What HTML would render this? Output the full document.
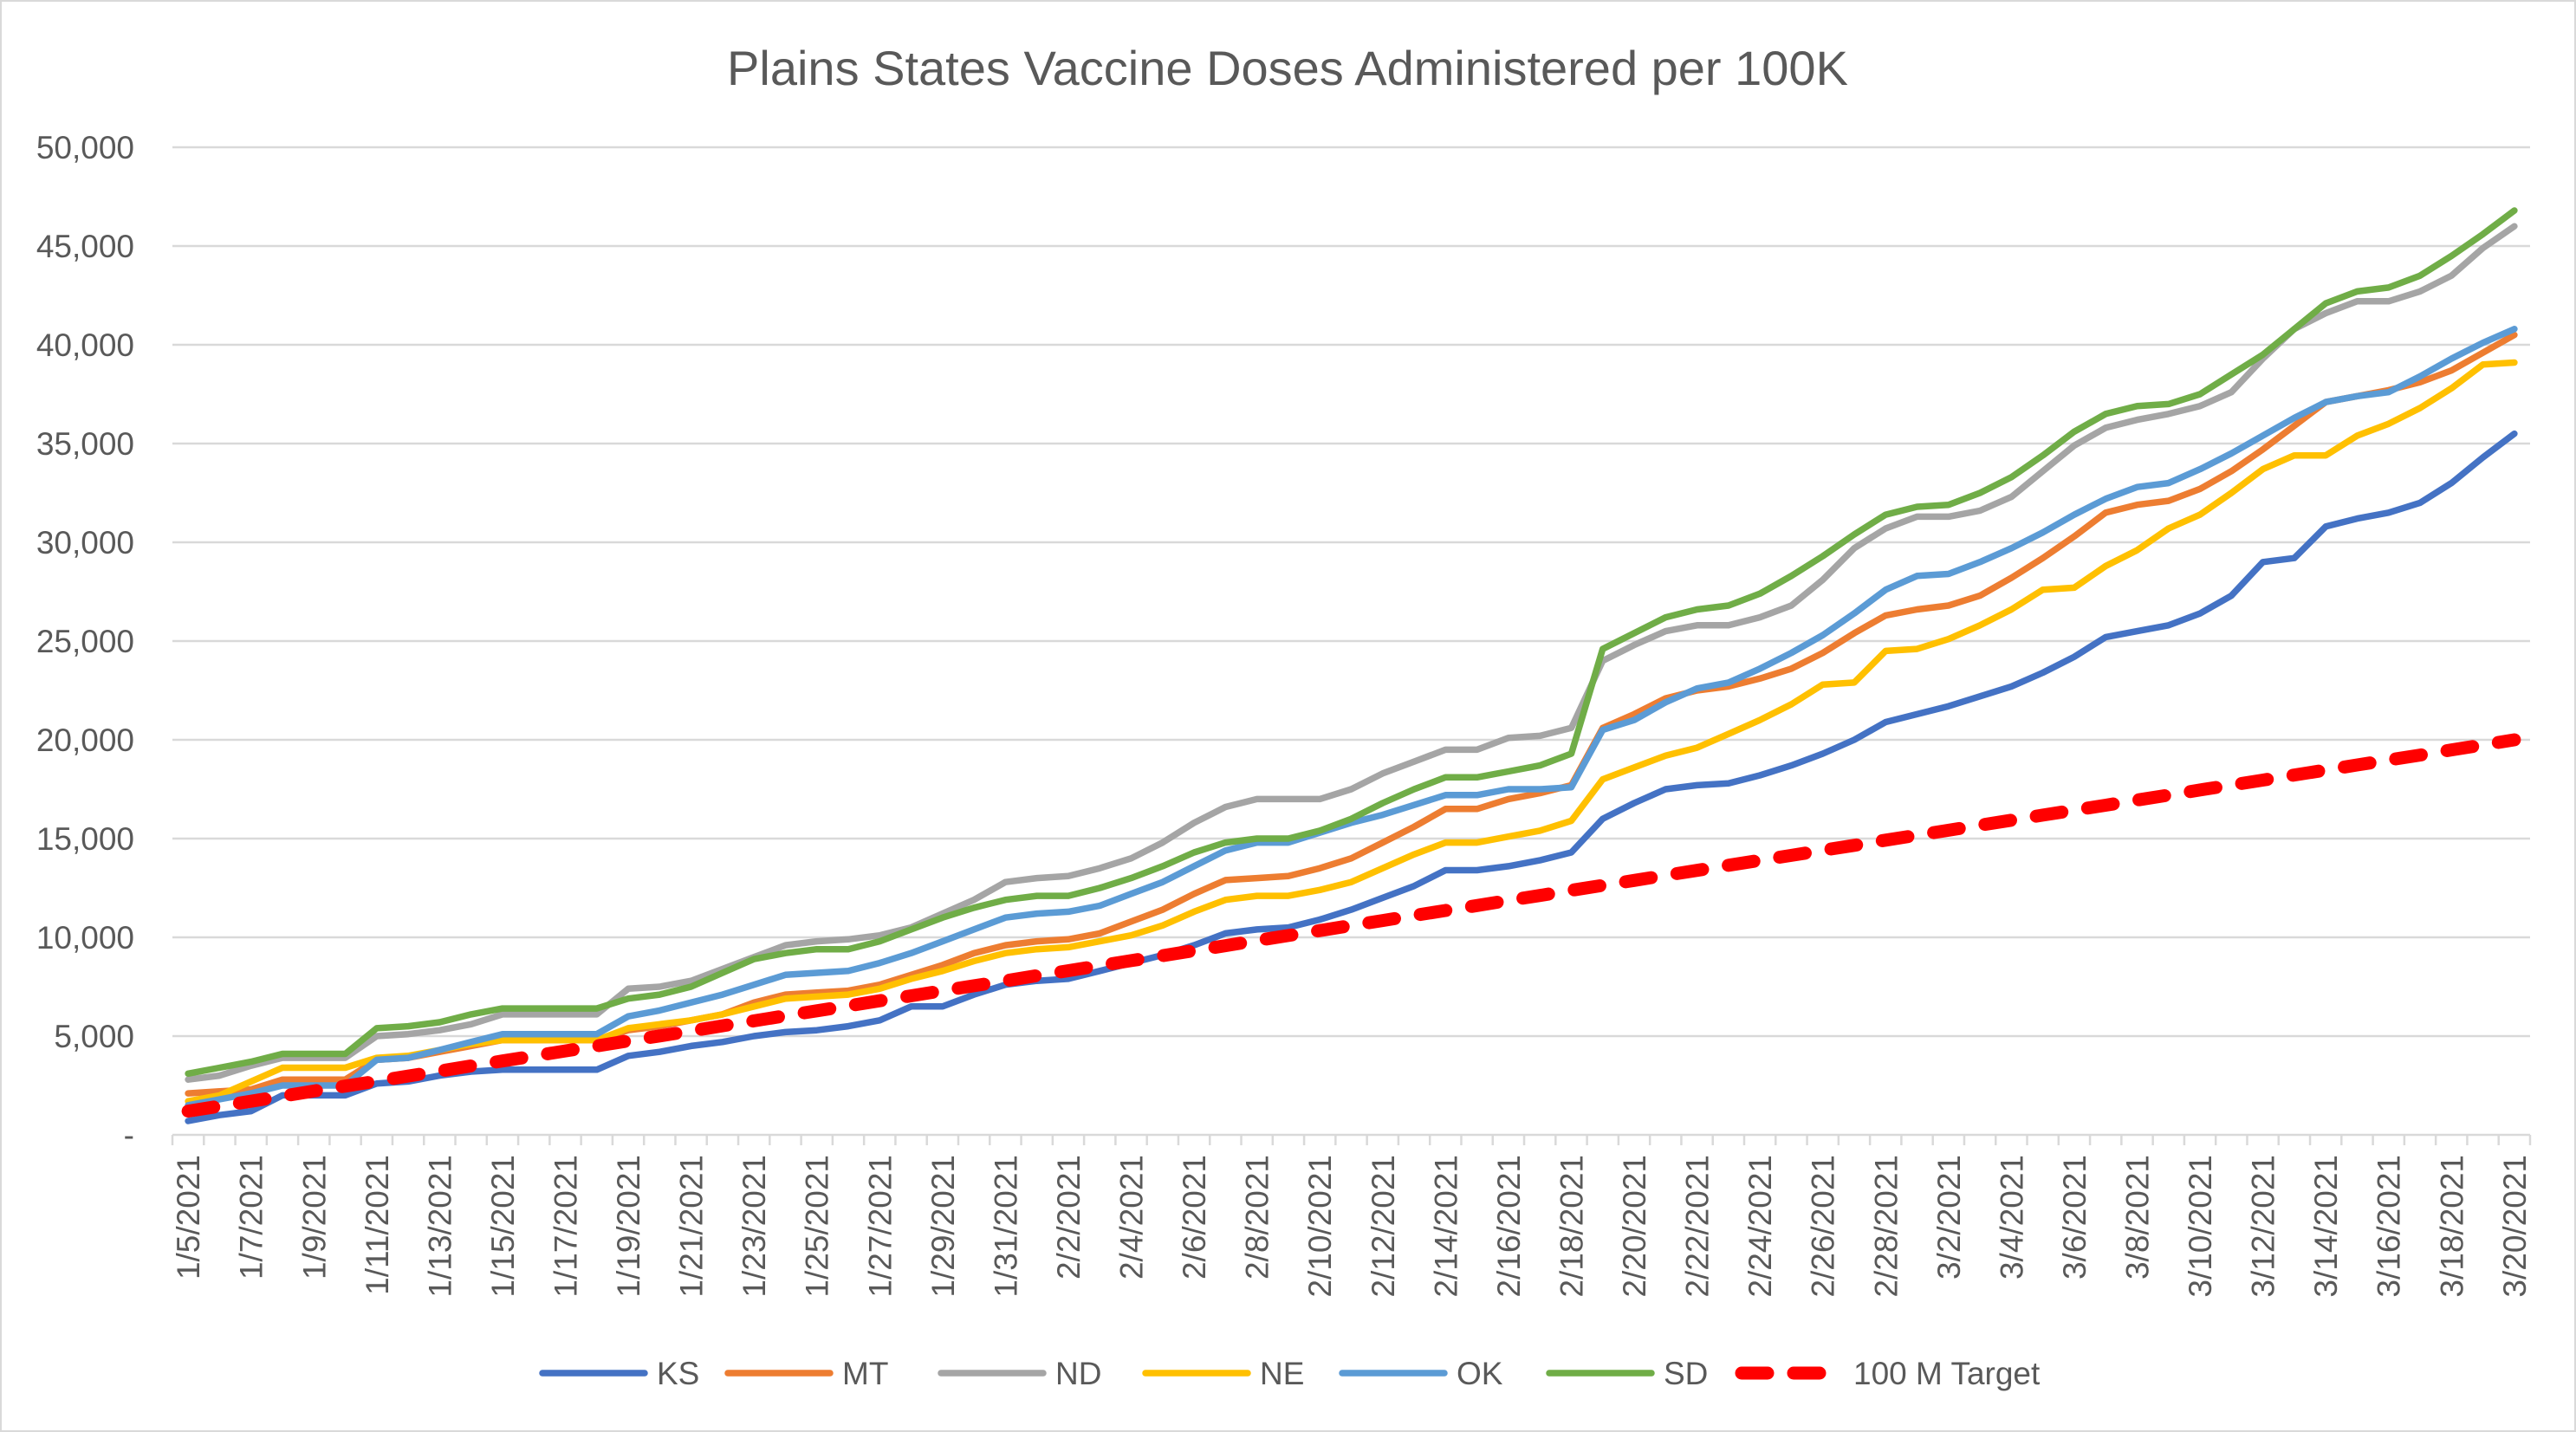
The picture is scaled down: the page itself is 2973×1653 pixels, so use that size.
<!DOCTYPE html>
<html><head><meta charset="utf-8"><style>
html,body{margin:0;padding:0;background:#fff;}
svg{display:block;font-family:"Liberation Sans",sans-serif;}
</style></head><body>
<svg id="chart" width="2973" height="1653" viewBox="0 0 2973 1653">
<rect x="1" y="1" width="2971" height="1651" fill="#fff" stroke="#d9d9d9" stroke-width="2"/>
<text x="1486" y="98" text-anchor="middle" font-size="56" fill="#595959">Plains States Vaccine Doses Administered per 100K</text>
<g id="grid"></g><g id="xaxis"></g><g id="yaxis"></g><g id="series"></g><g id="legend"></g>
</svg>
<script>
const categories = ["1/5/2021","1/6/2021","1/7/2021","1/8/2021","1/9/2021","1/10/2021","1/11/2021","1/12/2021","1/13/2021","1/14/2021","1/15/2021","1/16/2021","1/17/2021","1/18/2021","1/19/2021","1/20/2021","1/21/2021","1/22/2021","1/23/2021","1/24/2021","1/25/2021","1/26/2021","1/27/2021","1/28/2021","1/29/2021","1/30/2021","1/31/2021","2/1/2021","2/2/2021","2/3/2021","2/4/2021","2/5/2021","2/6/2021","2/7/2021","2/8/2021","2/9/2021","2/10/2021","2/11/2021","2/12/2021","2/13/2021","2/14/2021","2/15/2021","2/16/2021","2/17/2021","2/18/2021","2/19/2021","2/20/2021","2/21/2021","2/22/2021","2/23/2021","2/24/2021","2/25/2021","2/26/2021","2/27/2021","2/28/2021","3/1/2021","3/2/2021","3/3/2021","3/4/2021","3/5/2021","3/6/2021","3/7/2021","3/8/2021","3/9/2021","3/10/2021","3/11/2021","3/12/2021","3/13/2021","3/14/2021","3/15/2021","3/16/2021","3/17/2021","3/18/2021","3/19/2021","3/20/2021"];
const ks = [0.7,1.0,1.2,2.0,2.0,2.0,2.6,2.7,3.0,3.2,3.3,3.3,3.3,3.3,4.0,4.2,4.5,4.7,5.0,5.2,5.3,5.5,5.8,6.5,6.5,7.1,7.6, 7.8,7.9,8.3,8.7,9.1,9.6,10.2,10.4,10.5,10.9,11.4,12.0,12.6,13.4,13.4,13.6,13.9,14.3,16.0,16.8,17.5,17.7,17.8,18.2,18.7,19.3,20.0,20.9, 21.3,21.7,22.2,22.7,23.4,24.2,25.2,25.5,25.8,26.4,27.3,29.0,29.2,30.8,31.2,31.5,32.0,33.0,34.3,35.5];
const mt = [2.1,2.2,2.3,2.8,2.8,2.8,3.8,3.9,4.2,4.5,4.8,4.8,4.8,4.8,5.3,5.5,5.8,6.1,6.7,7.1,7.2,7.3,7.6,8.1,8.6,9.2,9.6, 9.8,9.9,10.2,10.8,11.4,12.2,12.9,13.0,13.1,13.5,14.0,14.8,15.6,16.5,16.5,17.0,17.3,17.7,20.6,21.3,22.1,22.5,22.7,23.1,23.6,24.4,25.4,26.3, 26.6,26.8,27.3,28.2,29.2,30.3,31.5,31.9,32.1,32.7,33.6,34.7,35.9,37.1,37.4,37.7,38.1,38.7,39.6,40.5];
const nd = [2.8,3.0,3.5,3.9,3.9,3.9,5.0,5.1,5.3,5.6,6.1,6.1,6.1,6.1,7.4,7.5,7.8,8.4,9.0,9.6,9.8,9.9,10.1,10.5,11.2,11.9,12.8, 13.0,13.1,13.5,14.0,14.8,15.8,16.6,17.0,17.0,17.0,17.5,18.3,18.9,19.5,19.5,20.1,20.2,20.6,24.0,24.8,25.5,25.8,25.8,26.2,26.8,28.1,29.7,30.7, 31.3,31.3,31.6,32.3,33.6,34.9,35.8,36.2,36.5,36.9,37.6,39.3,40.8,41.6,42.2,42.2,42.7,43.5,44.9,46.0];
const ne = [1.7,2.0,2.7,3.4,3.4,3.4,3.9,4.0,4.3,4.6,4.8,4.8,4.8,4.8,5.4,5.6,5.8,6.1,6.5,6.9,7.0,7.1,7.4,7.9,8.3,8.8,9.2, 9.4,9.5,9.8,10.1,10.6,11.3,11.9,12.1,12.1,12.4,12.8,13.5,14.2,14.8,14.8,15.1,15.4,15.9,18.0,18.6,19.2,19.6,20.3,21.0,21.8,22.8,22.9,24.5, 24.6,25.1,25.8,26.6,27.6,27.7,28.8,29.6,30.7,31.4,32.5,33.7,34.4,34.4,35.4,36.0,36.8,37.8,39.0,39.1];
const ok = [1.5,1.8,2.1,2.5,2.5,2.5,3.8,3.9,4.3,4.7,5.1,5.1,5.1,5.1,6.0,6.3,6.7,7.1,7.6,8.1,8.2,8.3,8.7,9.2,9.8,10.4,11.0, 11.2,11.3,11.6,12.2,12.8,13.6,14.4,14.8,14.8,15.3,15.8,16.2,16.7,17.2,17.2,17.5,17.5,17.6,20.5,21.0,21.9,22.6,22.9,23.6,24.4,25.3,26.4,27.6, 28.3,28.4,29.0,29.7,30.5,31.4,32.2,32.8,33.0,33.7,34.5,35.4,36.3,37.1,37.4,37.6,38.4,39.3,40.1,40.8];
const sd = [3.1,3.4,3.7,4.1,4.1,4.1,5.4,5.5,5.7,6.1,6.4,6.4,6.4,6.4,6.9,7.1,7.5,8.2,8.9,9.2,9.4,9.4,9.8,10.4,11.0,11.5,11.9, 12.1,12.1,12.5,13.0,13.6,14.3,14.8,15.0,15.0,15.4,16.0,16.8,17.5,18.1,18.1,18.4,18.7,19.3,24.6,25.4,26.2,26.6,26.8,27.4,28.3,29.3,30.4,31.4, 31.8,31.9,32.5,33.3,34.4,35.6,36.5,36.9,37.0,37.5,38.5,39.5,40.8,42.1,42.7,42.9,43.5,44.5,45.6,46.8];
const target = [1.2,1.45,1.7,1.96,2.22,2.47,2.72,2.98,3.23,3.49,3.74,3.99,4.25,4.5,4.76,5.01,5.26,5.52,5.77,6.03,6.28,6.53,6.79,7.04,7.3,7.55,7.8,8.06,8.31,8.57,8.82,9.07,9.33,9.58,9.84,10.09,10.34,10.6,10.85,11.11,11.36,11.61,11.87,12.12,12.38,12.63,12.88,13.14,13.39,13.65,13.9,14.15,14.41,14.66,14.92,15.17,15.42,15.68,15.93,16.19,16.44,16.69,16.95,17.2,17.46,17.71,17.96,18.22,18.47,18.73,18.98,19.23,19.49,19.74,20.0];
const yTicks = [0,5,10,15,20,25,30,35,40,45,50];
const yTickLabels = ["-","5,000","10,000","15,000","20,000","25,000","30,000","35,000","40,000","45,000","50,000"];
const seriesNames = ["KS","MT","ND","NE","OK","SD","100 M Target"];

const NS="http://www.w3.org/2000/svg";
const L=199,R=2920,T=170,B=1310;
const cw=(R-L)/categories.length;
function xs(i){return L+(i+0.5)*cw;}
function ys(v){return B-(v/50)*(B-T);}
function mk(tag,at,parent){const e=document.createElementNS(NS,tag);for(const k in at)e.setAttribute(k,at[k]);parent.appendChild(e);return e;}
const grid=document.getElementById('grid'),xa=document.getElementById('xaxis'),ya=document.getElementById('yaxis'),sg=document.getElementById('series'),lg=document.getElementById('legend');
yTicks.forEach((t,i)=>{
  if(t>0){const g=mk('line',{x1:L,x2:R,y1:ys(t),y2:ys(t),stroke:'#d9d9d9','stroke-width':2.5},grid);
  
  }
  const tx=mk('text',{x:155,y:ys(t)+13,'text-anchor':'end','font-size':37,fill:'#595959'},ya);
  tx.textContent=yTickLabels[i];
  
  
});
const ax=mk('line',{x1:L,x2:R,y1:B,y2:B,stroke:'#d9d9d9','stroke-width':2.5},xa);


for(let i=0;i<=categories.length;i++){
  const tk=mk('line',{x1:L+i*cw,x2:L+i*cw,y1:B,y2:B+12,stroke:'#d9d9d9','stroke-width':2.5},xa);
  
  
}
categories.forEach((c,i)=>{
  if(i%2!==0)return;
  const x=xs(i)+13,y=1333;
  const tx=mk('text',{x:x,y:y,'text-anchor':'end','font-size':37,fill:'#595959',transform:`rotate(-90 ${x} ${y})`},xa);
  tx.textContent=c;
  
  
});
const colors=['#4472c4','#ed7d31','#a5a5a5','#ffc000','#5b9bd5','#70ad47','#ff0000'];
const data=[ks,mt,nd,ne,ok,sd,target];
const ids=['line-ks','line-mt','line-nd','line-ne','line-ok','line-sd','line-target'];
data.forEach((arr,k)=>{
  const d=arr.map((v,i)=>(i?'L':'M')+xs(i).toFixed(1)+' '+ys(v).toFixed(1)).join(' ');
  const at={d:d,fill:'none',stroke:colors[k],'stroke-width':7.5,'stroke-linejoin':'round','stroke-linecap':'round'};
  if(k===6){at['stroke-width']=15;at['stroke-dasharray']='30 30';}
  const p=mk('path',at,sg);
  
  
});
const lx=[626,840,1086,1322,1549,1788,2010];
seriesNames.forEach((n,k)=>{
  const g=mk('g',{},lg);
  
  
  const at={x1:lx[k],x2:lx[k]+(k===6?105:118),y1:1585,y2:1585,stroke:colors[k],'stroke-width':k===6?15:7.5,'stroke-linecap':'round'};
  if(k===6)at['stroke-dasharray']='30 30';
  mk('line',at,g);
  const t=mk('text',{x:lx[k]+(k===6?129:132),y:1598,'font-size':37,fill:'#595959'},g);
  t.textContent=n;
});
</script>
</body></html>
